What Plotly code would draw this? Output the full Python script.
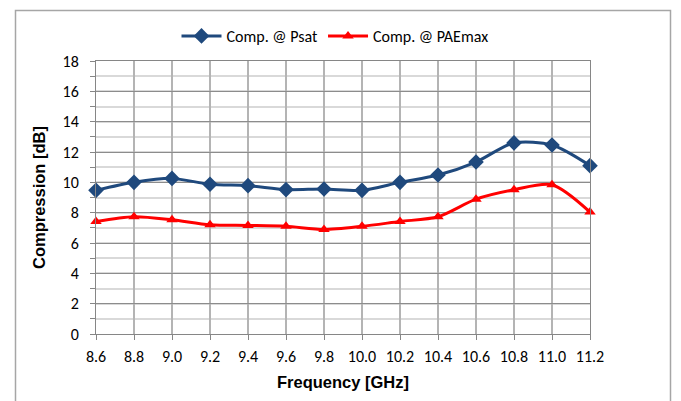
import plotly.graph_objects as go

freq = [8.6, 8.8, 9.0, 9.2, 9.4, 9.6, 9.8, 10.0, 10.2, 10.4, 10.6, 10.8, 11.0, 11.2]
comp_psat = [9.47, 10.0, 10.26, 9.87, 9.78, 9.52, 9.56, 9.47, 10.0, 10.48, 11.34, 12.6, 12.46, 11.1]
comp_paemax = [7.42, 7.73, 7.53, 7.2, 7.16, 7.1, 6.89, 7.1, 7.42, 7.73, 8.89, 9.51, 9.84, 8.04]
x_ticklabels = [f"{v:.1f}" for v in freq]
y_ticks = [0, 2, 4, 6, 8, 10, 12, 14, 16, 18]

# the page puts the figure 8px in from the window's top-left corner
OFF = 8
W, H = 681 - OFF, 401 - OFF
L, R, T, B = 96 - OFF, 91, 61 - OFF, 67
pw, ph = W - L - R, H - T - B

def px(x):
    return (x - OFF - L) / pw

def py(y):
    return (H - B - (y - OFF)) / ph

tick_font = dict(family="Liberation Sans Narrow, Arial Narrow, Carlito, sans-serif", size=16, color="#000000")

fig = go.Figure()
fig.add_trace(go.Scatter(
    x=freq, y=comp_psat, name="Comp. @ Psat", mode="lines+markers",
    line=dict(color="#1F497D", width=3, shape="spline", smoothing=0.8),
    marker=dict(symbol="diamond", size=12, color="#1F497D"),
    cliponaxis=False,
))
fig.add_trace(go.Scatter(
    x=freq, y=comp_paemax, name="Comp. @ PAEmax", mode="lines+markers",
    line=dict(color="#FF0000", width=3, shape="spline", smoothing=0.8),
    marker=dict(symbol="triangle-up", size=10, color="#FF0000"),
    cliponaxis=False,
))

fig.update_layout(
    width=W, height=H,
    margin=dict(l=L, r=R, t=T, b=B, pad=0, autoexpand=False),
    paper_bgcolor="white", plot_bgcolor="white",
    showlegend=True,
    legend=dict(orientation="h", x=px(335), xanchor="center", y=py(36), yanchor="middle",
                font=dict(family="Liberation Sans Narrow, Arial Narrow, Carlito, sans-serif", size=16, color="#000000"),
                itemwidth=40, tracegroupgap=0, bgcolor="rgba(0,0,0,0)"),
    xaxis=dict(
        range=[8.6, 11.2], tickvals=freq, ticktext=x_ticklabels,
        showgrid=True, gridcolor="#b4b4b4", gridwidth=1.5,
        showline=True, linecolor="#868686", linewidth=1, mirror=True,
        ticks="outside", ticklen=5, tickcolor="#868686",
        tickfont=tick_font, ticklabelstandoff=3,
        zeroline=False, automargin=False,
        title=dict(text="<b>Frequency [GHz]</b>", standoff=11,
                   font=dict(family="Liberation Sans, Arial, sans-serif", size=16.5, color="#000000")),
    ),
    yaxis=dict(
        range=[0, 18], tickvals=y_ticks,
        showgrid=True, gridcolor="#8c8c8c", gridwidth=1,
        minor=dict(dtick=1, showgrid=True, gridcolor="#d9d9d9", gridwidth=1.5,
                   ticks="outside", ticklen=5, tickcolor="#868686"),
        showline=True, linecolor="#868686", linewidth=1, mirror=True,
        ticks="outside", ticklen=5, tickcolor="#868686",
        tickfont=tick_font, ticklabelstandoff=8,
        zeroline=False, automargin=False,
        title=dict(text="<b>Compression [dB]</b>", standoff=12,
                   font=dict(family="Liberation Sans, Arial, sans-serif", size=16.5, color="#000000")),
    ),
    shapes=[dict(type="path", xref="paper", yref="paper",
                 path=f"M {px(15.5)} {py(410)} L {px(15.5)} {py(10.5)} L {px(670.5)} {py(10.5)} L {px(670.5)} {py(410)}",
                 line=dict(color="#a6a6a6", width=1.5), layer="below")],
)

fig.write_html("out.html")
